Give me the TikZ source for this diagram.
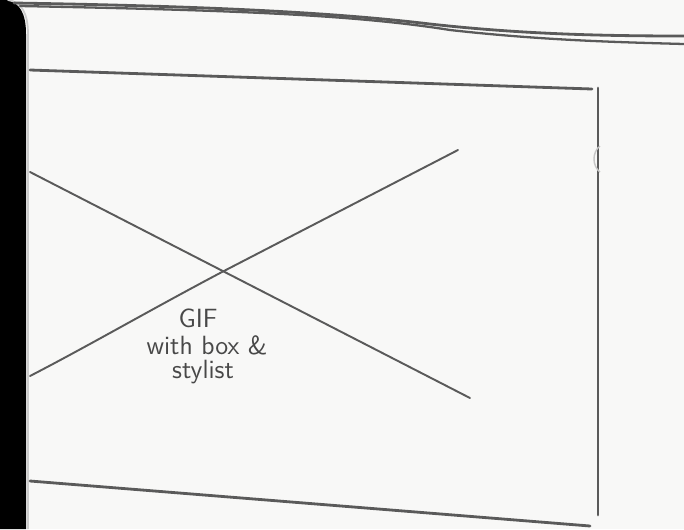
\documentclass[tikz,border=0pt]{standalone}
\usetikzlibrary{calc}
\definecolor{pen}{HTML}{5A5A5A}
\definecolor{paper}{HTML}{F8F8F7}
\tikzset{
    penline/.style={draw=pen, line width=1.6pt, line cap=round},
    thinpen/.style={draw=pen, line width=1.1pt, line cap=round},
    note/.style={text=pen!80!black, font=\sffamily\fontsize{15}{16}\selectfont, align=center, inner sep=0pt}
}

\begin{document}
\begin{tikzpicture}[x=0.02cm, y=-0.02cm]
    % Page frame, same size as the photo
    \useasboundingbox (0,0) rectangle (684,529);
    \fill[paper] (0,0) rectangle (684,529);

    % Black bezel on the left, rounded at the top
    \fill[black] (0,529) -- (0,0) -- (6,0) .. controls (20,2) and (26,14) .. (26,34) -- (26,529) -- cycle;
    \draw[gray!40, line width=1pt] (8,0) .. controls (22,2) and (28,14) .. (28,34) -- (28,529);

    % Double stroke along the top edge
    \draw[penline] (14,3) .. controls (200,6) and (330,12) .. (430,24) .. controls (520,34) and (600,36) .. (684,36);
    \draw[penline, line width=1.3pt] (20,6) .. controls (220,10) and (350,14) .. (450,30) .. controls (540,40) and (610,42) .. (684,44);

    % Corners of the frame
    \coordinate (TL) at (30,70);
    \coordinate (TR) at (592,89);
    \coordinate (RT) at (598,88);
    \coordinate (RB) at (598,515);
    \coordinate (BL) at (30,481);
    \coordinate (BR) at (590,526);

    \draw[penline] (TL) -- (TR);
    \draw[penline] (RT) -- (RB);
    \draw[penline] (BL) -- (BR);

    % Small mark next to the right edge
    \draw[gray!45, line width=0.8pt] (600,146) .. controls (592,152) and (592,166) .. (600,172);

    % The cross (image placeholder)
    \coordinate (A1) at (30,172);
    \coordinate (A2) at (470,398);
    \coordinate (B1) at (30,376);
    \coordinate (B2) at (458,150);
    \draw[thinpen] (A1) -- (A2);
    \draw[thinpen] (B1) .. controls (90,345) and (150,310) .. (222,272) -- (B2);

    % Handwritten label
    \node[note] (gif) at (198,318) {GIF};
    \node[note] (box) at (207,345) {with box \&};
    \node[note] (sty) at (203,372) {stylist};
\end{tikzpicture}
\end{document}
